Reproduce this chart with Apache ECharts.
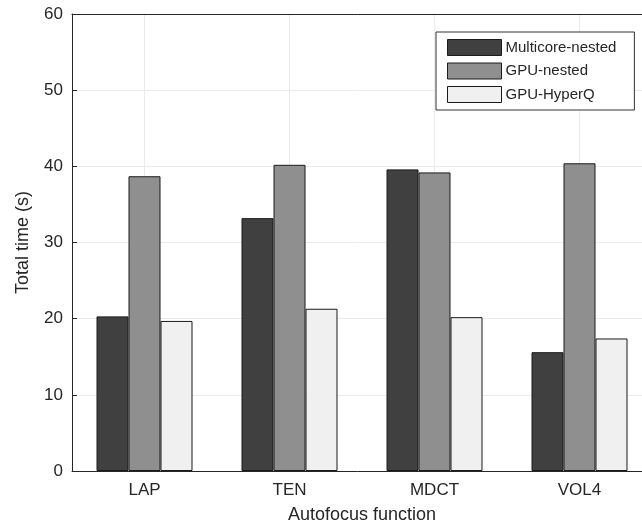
<!DOCTYPE html>
<html>
<head>
<meta charset="utf-8">
<script src="https://cdn.jsdelivr.net/npm/echarts@6/dist/echarts.min.js"></script>
<style>
  html, body { margin: 0; padding: 0; background: #fff; }
  #chart { width: 642px; height: 525px; }
</style>
</head>
<body>
<div id="chart"></div>
<script>
// 数据
const categories = ['LAP', 'TEN', 'MDCT', 'VOL4']
const multicoreNested = [20.3, 33.2, 39.6, 15.6]
const gpuNested = [38.7, 40.2, 39.2, 40.4]
const gpuHyperQ = [19.7, 21.3, 20.2, 17.4]
const yTicks = [0, 10, 20, 30, 40, 50, 60]

const font = 'Liberation Sans, Arial, Helvetica, sans-serif'
const textColor = '#262626'

function makeBar (name, data, color) {
  return {
    name: name,
    type: 'bar',
    data: data,
    barWidth: 32,
    barGap: '0%',
    itemStyle: { color: color, borderColor: '#1a1a1a', borderWidth: 1 }
  }
}

let myChart = echarts.init(document.getElementById('chart'))
myChart.setOption({
  animation: false,
  backgroundColor: '#fff',
  textStyle: { fontFamily: font, color: textColor },
  // 右边框在画面外 (xlim 0.5 ~ 4.5)
  grid: { left: 72, top: 14, width: 580, height: 457, outerBoundsMode: 'none', containLabel: false },
  legend: {
    orient: 'vertical',
    left: 436,
    top: 32,
    padding: [7, 18, 7, 11],
    itemWidth: 54,
    itemHeight: 16,
    itemGap: 6.5,
    borderColor: '#333',
    borderWidth: 1,
    backgroundColor: '#fff',
    icon: 'rect',
    itemStyle: { borderWidth: 1 },
    textStyle: { fontFamily: font, fontSize: 15, color: textColor, padding: [0, 0, 0, -1] },
    data: ['Multicore-nested', 'GPU-nested', 'GPU-HyperQ']
  },
  xAxis: [
    {
      type: 'category',
      data: categories,
      name: 'Autofocus function',
      nameLocation: 'middle',
      nameGap: 35,
      nameTextStyle: { fontSize: 18, color: textColor },
      axisLine: { lineStyle: { color: '#262626', width: 1 } },
      axisTick: { inside: true, alignWithLabel: true, length: 5, lineStyle: { color: '#262626' } },
      axisLabel: { fontSize: 17, color: textColor, margin: 11 },
      splitLine: { show: true, alignWithLabel: true, lineStyle: { color: '#ebebeb' } }
    },
    {
      type: 'category',
      data: categories,
      position: 'top',
      axisLine: { lineStyle: { color: '#262626', width: 1 } },
      axisTick: { inside: true, alignWithLabel: true, length: 5, lineStyle: { color: '#262626' } },
      axisLabel: { show: false }
    }
  ],
  yAxis: {
    type: 'value',
    min: yTicks[0],
    max: yTicks[yTicks.length - 1],
    interval: 10,
    name: 'Total time (s)',
    nameLocation: 'middle',
    nameGap: 40,
    nameTextStyle: { fontSize: 18, color: textColor },
    axisLine: { show: true, lineStyle: { color: '#262626', width: 1 } },
    axisTick: { show: true, inside: true, length: 5, lineStyle: { color: '#262626' } },
    axisLabel: { fontSize: 17, color: textColor, margin: 9 },
    splitLine: { show: true, lineStyle: { color: '#ebebeb' } }
  },
  series: [
    makeBar('Multicore-nested', multicoreNested, '#404040'),
    makeBar('GPU-nested', gpuNested, '#8f8f8f'),
    makeBar('GPU-HyperQ', gpuHyperQ, '#f0f0f0')
  ]
})
</script>
</body>
</html>
